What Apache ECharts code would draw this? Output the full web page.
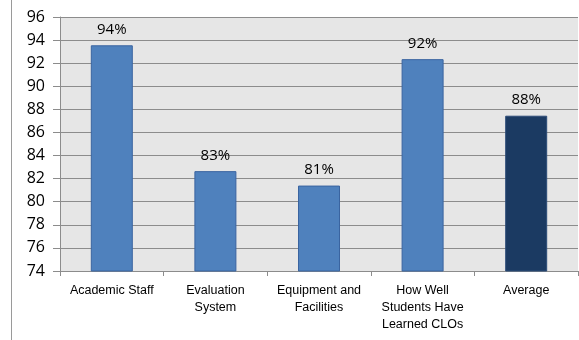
<!DOCTYPE html>
<html>
<head>
<meta charset="utf-8">
<script src="https://cdn.jsdelivr.net/npm/echarts@6/dist/echarts.min.js"></script>
<style>
  html, body { margin: 0; padding: 0; background: #fff; }
  #main { width: 579px; height: 340px; }
</style>
</head>
<body>
<div id="main"></div>
<script>
// data
var categories = ['Academic Staff', 'Evaluation\nSystem', 'Equipment and\nFacilities', 'How Well\nStudents Have\nLearned CLOs', 'Average'];
var values = [93.55, 82.65, 81.4, 92.35, 87.45];
var labels = ['94%', '83%', '81%', '92%', '88%'];
var barColors = ['#4F81BD', '#4F81BD', '#4F81BD', '#4F81BD', '#1B3A62'];

var myChart = echarts.init(document.getElementById('main'));
var option = {
    animation: false,
    grid: {
        left: 60,
        right: 1,
        top: 17,
        bottom: 69,
        show: true,
        backgroundColor: '#E6E6E6',
        borderWidth: 0
    },
    graphic: [{
        type: 'line',
        shape: { x1: 11.5, y1: 0, x2: 11.5, y2: 340 },
        style: { stroke: '#9a9a9a', lineWidth: 1 }
    }],
    xAxis: {
        type: 'category',
        data: categories,
        axisLine: { show: false },
        axisTick: { show: true, length: 5, lineStyle: { color: '#8c8c8c' } },
        axisLabel: {
            color: '#000',
            fontFamily: 'Liberation Sans',
            fontSize: 12.5,
            lineHeight: 17,
            margin: 11,
            interval: 0
        }
    },
    yAxis: {
        type: 'value',
        min: 74,
        max: 96,
        interval: 2,
        axisLine: { show: true, lineStyle: { color: '#8c8c8c' } },
        axisTick: { show: true, length: 7, lineStyle: { color: '#8c8c8c' } },
        axisLabel: {
            color: '#000',
            fontFamily: 'Open Sans',
            fontSize: 16,
            margin: 15
        },
        splitLine: { lineStyle: { color: '#8c8c8c', width: 1 } }
    },
    series: [{
        type: 'bar',
        barWidth: 42,
        data: values.map(function (v, i) {
            return {
                value: v,
                itemStyle: {
                    color: barColors[i],
                    borderColor: i === 4 ? '#2C4C78' : '#3A64A0',
                    borderWidth: 1
                }
            };
        }),
        label: {
            show: true,
            position: 'top',
            distance: 8,
            color: '#000',
            fontFamily: 'Open Sans',
            fontSize: 15,
            formatter: function (p) { return labels[p.dataIndex]; }
        }
    }]
};
myChart.setOption(option);
</script>
</body>
</html>
